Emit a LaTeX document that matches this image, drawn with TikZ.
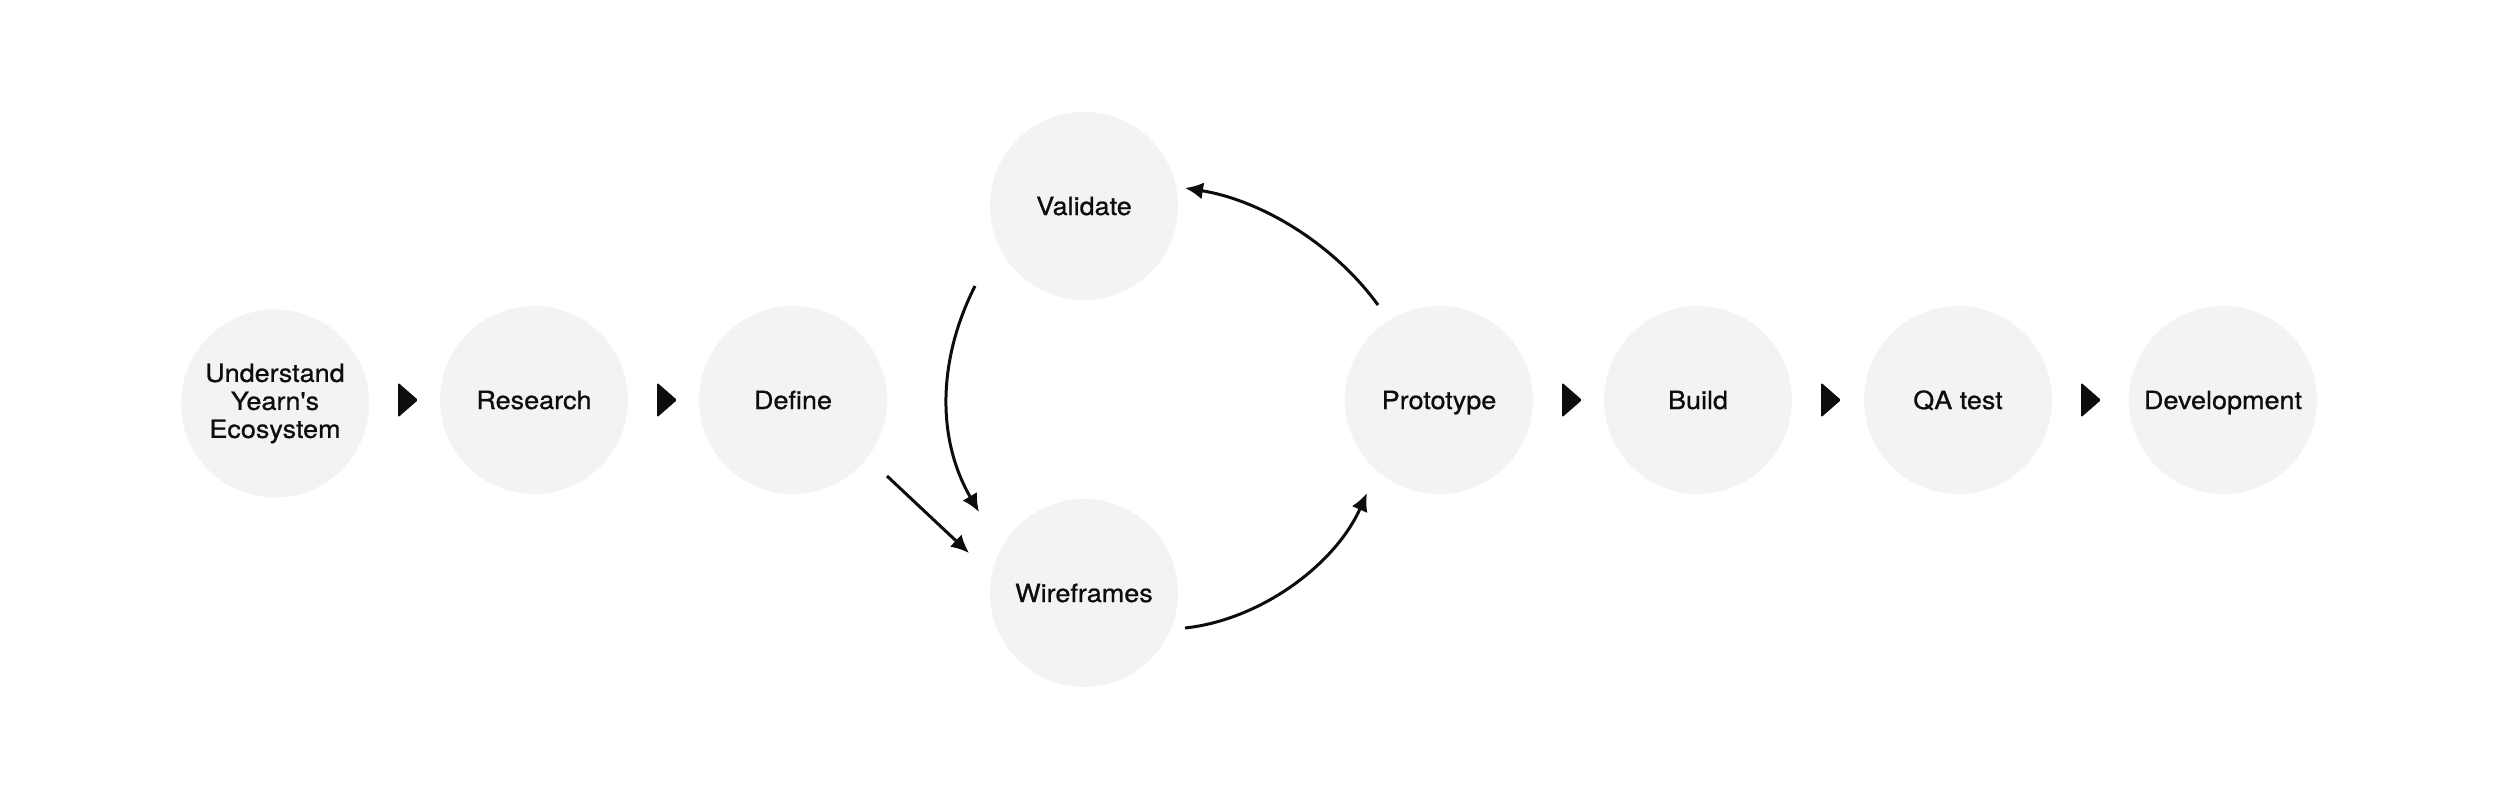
\documentclass[tikz,border=0pt]{standalone}
\usepackage{fontspec}
\newfontfamily\labelfont{TeX Gyre Heros}[FakeStretch=1.08,FakeBold=0.8]
\usetikzlibrary{arrows.meta,calc}
\definecolor{circfill}{HTML}{F2F3F5}
\definecolor{ink}{HTML}{0D0D0D}
\begin{document}
\begin{tikzpicture}[x=1pt,y=-1pt,
  basestage/.style={circle,fill=circfill,minimum size=188pt,inner sep=0pt,
    font=\labelfont\fontsize{25}{28}\selectfont,text=ink},
  stage/.style={basestage,text height=18pt,text depth=0pt},
  conn/.style={draw=ink,line width=3pt,-{Latex[length=18pt,width=17pt]}},
  sepmark/.style={fill=ink,rounded corners=1.5pt}
]
\useasboundingbox[fill=white] (0,0) rectangle (2500,800);

\node[basestage,align=center] (und) at (275,403.5) {Understand\\Yearn's\\Ecosystem};
\node[stage] (res) at (534,400) {Research};
\node[stage] (def) at (793,400) {Define};
\node[stage] (val) at (1084,206) {Validate};
\node[stage] (wir) at (1084,593) {Wireframes};
\node[stage] (pro) at (1439,400) {Prototype};
\node[stage] (bui) at (1698,400) {Build};
\node[stage] (qa)  at (1958,400) {QA test};
\node[stage] (dev) at (2223,400) {Development};

\foreach \n in {res,pro,bui,qa}
  \fill[sepmark] ($(\n.center)+(123,-17.5)$) -- ($(\n.center)+(143,0)$) -- ($(\n.center)+(123,17.5)$) -- cycle;
\fill[sepmark] ($(und.center)+(123,-21)$) -- ($(und.center)+(143,-3.5)$) -- ($(und.center)+(123,14)$) -- cycle;

\draw[conn] ($(def.center)+(94,76)$) -- ($(wir.center)+(-115,-40)$);
\draw[conn] ($(val.center)+(-109,80)$) .. controls (937,361) and (937,440) .. ($(wir.center)+(-105,-81)$);
\draw[conn] ($(wir.center)+(101,35)$) .. controls (1260,620) and (1335,565) .. ($(pro.center)+(-72,93)$);
\draw[conn] ($(pro.center)+(-61,-95)$) .. controls (1333,243) and (1260,200) .. ($(val.center)+(101,-18)$);
\end{tikzpicture}
\end{document}
